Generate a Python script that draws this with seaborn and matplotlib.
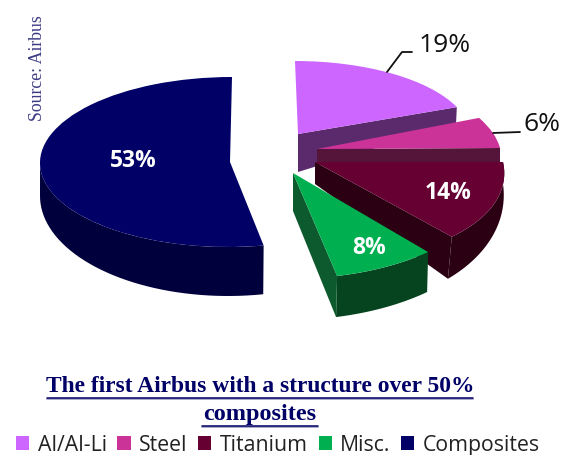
import numpy as np
import seaborn as sns
import matplotlib
matplotlib.use("Agg")
import matplotlib.pyplot as plt
from matplotlib.transforms import Affine2D

materials = ["Al/Al-Li", "Steel", "Titanium", "Misc.", "Composites"]
shares = [19, 6, 14, 8, 53]
share_labels = ["19%", "6%", "14%", "8%", "53%"]

top_colors = ["#cc66ff", "#cc3399", "#660033", "#00b050", "#000066"]
side_colors = ["#5a2a6c", "#551439", "#2b0012", "#05441f", "#00003c"]
face_colors = ["#5a2a6c", "#551439", "#2b0012", "#0d5a2e", "#00003c"]

# each slice is tilted on its own: centre, image of the 3 o'clock and 12 o'clock radius, in pixels
top_geo = [
    ((298, 135), (172, 0), (-3, -73)),
    ((317, 150), (183, -1), (-22, -82)),
    ((315, 163), (188, 0), (-22, -97)),
    ((293, 174), (205, -3.5), (-5.8, -105.5)),
    ((230, 163), (190, 0), (2, -85)),
]
bottom_geo = [
    ((298, 173), (170, 0), (0, -133)),
    ((317, 163), (183, 0), (-22, -82)),
    ((315, 185), (188, 0), (-17, -123)),
    ((293, 212), (204.6, -4.4), (-4.8, -108.8)),
    ((228, 197), (188, 0), (0, -100)),
]
# which side walls can be seen
show_rim = [False, False, True, True, True]
show_face = [True, True, True, True, False]


def rim(geo, phi):
    c, r, u = geo
    xs = c[0] + np.cos(phi) * r[0] + np.sin(phi) * u[0]
    ys = c[1] + np.cos(phi) * r[1] + np.sin(phi) * u[1]
    return xs, ys


sns.set_theme(style="white")
fig = plt.figure(figsize=(5.61, 4.56), dpi=100)
ax = fig.add_axes([0, 0, 1, 1])

wedges, _ = ax.pie(shares, startangle=90, counterclock=False,
                   colors=sns.color_palette(top_colors), wedgeprops=dict(linewidth=0))
ax.set_xlim(0, 561)
ax.set_ylim(456, 0)
ax.set_aspect("auto")
ax.axis("off")

# composites goes to the back, others stack up in order
order = [1, 2, 3, 4, 0]
for i, w in enumerate(wedges):
    z = order[i] * 3 + 2
    c, r, u = top_geo[i]
    w.set_transform(Affine2D.from_values(r[0], r[1], u[0], u[1], c[0], c[1]) + ax.transData)
    w.set_zorder(z + 2)

    phi = np.radians(np.linspace(w.theta1, w.theta2, 80))
    if show_rim[i]:
        tx, ty = rim(top_geo[i], phi)
        bx, by = rim(bottom_geo[i], phi)
        if i == 4:
            # only the front part of the composites rim shows
            keep = np.sin(phi) <= 0.02
            tx, ty, bx, by = tx[keep], ty[keep], bx[keep], by[keep]
        ax.fill(np.r_[tx, bx[::-1]], np.r_[ty, by[::-1]], color=side_colors[i], lw=0, zorder=z)
    if show_face[i]:
        # cut face on the clockwise end of the slice (theta1 because counterclock=False)
        end = np.radians(w.theta1)
        tx, ty = rim(top_geo[i], end)
        bx, by = rim(bottom_geo[i], end)
        ctop = top_geo[i][0]
        cbot = bottom_geo[i][0]
        ax.fill([ctop[0], tx, bx, cbot[0]], [ctop[1], ty, by, cbot[1]],
                color=face_colors[i], lw=0, zorder=z + 1)

# percent labels
ax.text(445, 46, share_labels[0], fontsize=19, family="Open Sans", color="#111111",
        ha="center", va="center", zorder=30)
ax.text(542, 125, share_labels[1], fontsize=19, family="Open Sans", color="#111111",
        ha="center", va="center", zorder=30)
ax.text(448, 193, share_labels[2], fontsize=16.5, family="Open Sans", weight="bold", color="white",
        ha="center", va="center", zorder=30)
ax.text(369, 248, share_labels[3], fontsize=16.5, family="Open Sans", weight="bold", color="white",
        ha="center", va="center", zorder=30)
ax.text(133, 161, share_labels[4], fontsize=16.5, family="Open Sans", weight="bold", color="white",
        ha="center", va="center", zorder=30)

# leader lines
ax.plot([387, 402, 412], [73, 53, 53], color="#111111", lw=1.3, zorder=30)
ax.plot([493, 520], [134, 133], color="#111111", lw=1.3, zorder=30)

ax.text(38, 68, "Source: Airbus", rotation=90, fontsize=12.8, family="Liberation Serif",
        color="#3b3b85", ha="center", va="center")

# title with its underlines
navy = "#000066"
ax.text(260, 387, "The first Airbus with a structure over 50%", fontsize=16.9,
        family="Liberation Serif", weight="bold", color=navy, ha="center", va="center")
ax.text(260, 415, "composites", fontsize=17.5, family="Liberation Serif", weight="bold",
        color=navy, ha="center", va="center")
for x0, x1, y in [(47, 473, 399), (202, 318, 427)]:
    ax.plot([x0, x1], [y + 1.5, y + 1.5], color="#a9a9c8", lw=1.4, zorder=3)
    ax.plot([x0, x1], [y, y], color=navy, lw=1.1, zorder=4)

leg = ax.legend(wedges, materials, ncol=5, loc="center", bbox_to_anchor=(278 / 561, 1 - 446 / 456),
                frameon=False, handlelength=0.62, handleheight=0.62,
                handletextpad=0.4, columnspacing=0.5, borderpad=0, borderaxespad=0,
                prop=dict(family="Open Sans", size=15.3), labelcolor="#222222")

fig.savefig("out.png", dpi=100)
